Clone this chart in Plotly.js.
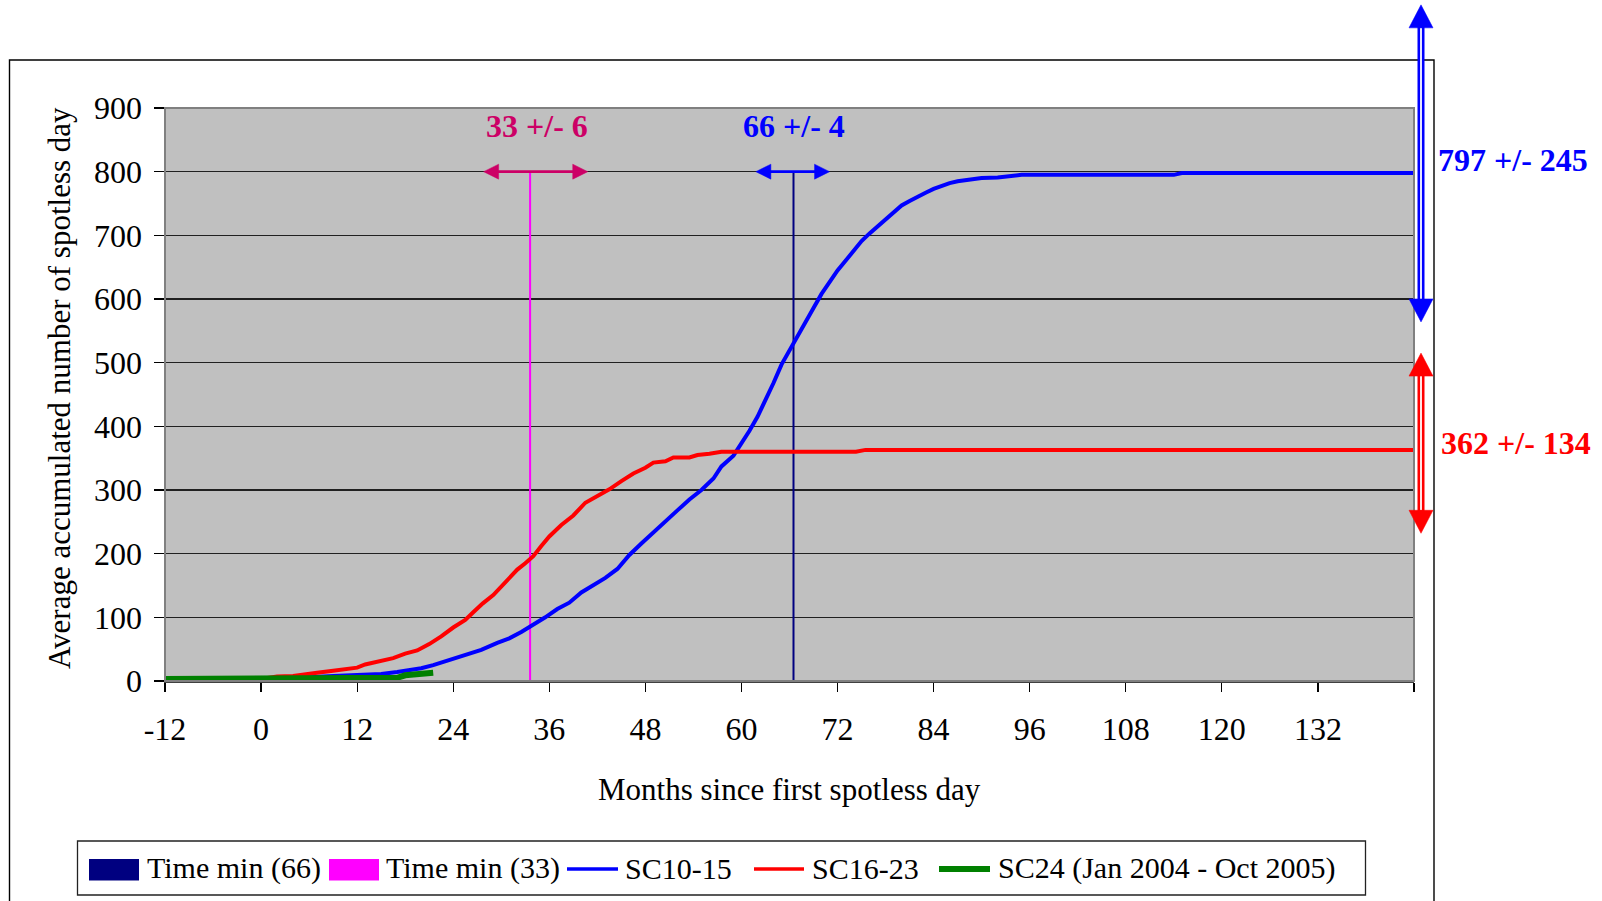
<!DOCTYPE html>
<html>
<head>
<meta charset="utf-8">
<script src="https://cdn.plot.ly/plotly-3.0.1.min.js"></script>
<style>html,body{margin:0;padding:0;background:#fff;}#chart{width:1602px;height:901px;}</style>
</head>
<body>
<div id="chart"></div>
<script>
// ---------------- data ----------------
const xTickVals = [-12, 0, 12, 24, 36, 48, 60, 72, 84, 96, 108, 120, 132, 144];
const xTickText = ['-12', '0', '12', '24', '36', '48', '60', '72', '84', '96', '108', '120', '132', ''];
const yTickVals = [0, 100, 200, 300, 400, 500, 600, 700, 800, 900];
const yTickText = ['0', '100', '200', '300', '400', '500', '600', '700', '800', '900'];

const sc1015Months = [0, 3, 6, 9, 12, 15, 17, 18.5, 20, 21.5, 23.5, 25.5, 27.5, 29.5, 31, 32.5, 34, 35.5, 37, 38.5, 40, 41.5, 43, 44.5, 46, 47.5, 49, 50.5, 52, 53.5, 55, 56.5, 57.5, 59, 60, 61, 62, 63, 64, 65, 66, 67, 68, 69, 70, 71, 72, 73, 74, 75, 76, 77, 78, 79, 80, 81, 82, 83, 84, 85, 86, 87, 88, 89, 90, 92, 94, 95, 114, 115, 144];
const sc1015Values = [3, 4, 6, 8, 9, 11, 14, 17, 20, 25, 33, 41, 49, 60, 67, 77, 88, 100, 113, 123, 139, 151, 162, 176, 198, 216, 234, 250, 268, 285, 300, 318, 337, 354, 373, 393, 415, 440, 468, 497, 520, 541, 563, 586, 608, 627, 645, 660, 676, 691, 703, 714, 726, 737, 747, 754, 761, 767, 773, 778, 782, 785, 787, 789, 790, 791, 793, 795, 795, 798, 798];

const sc1623Months = [0, 1, 2, 4, 5, 7, 9, 10, 12, 13, 15, 16.5, 18, 19.5, 21, 22.5, 24, 25.5, 26.5, 27.7, 29, 30, 31, 32, 33, 34, 35, 36, 37.5, 39, 40.5, 42, 43.5, 45, 46.5, 48, 49, 50.5, 51.5, 53.5, 54.5, 56, 57.5, 74.3, 75.5, 144];
const sc1623Values = [3, 5, 7, 8, 10, 13, 16, 18, 21, 26, 31, 36, 43, 48, 58, 70, 84, 96, 108, 122, 135, 148, 163, 175, 185, 196, 212, 227, 245, 260, 280, 291, 301, 314, 326, 335, 343, 345, 351, 351, 355, 357, 360, 360, 363, 363];

const sc24Months = [-12, 0, 16, 17, 18, 19.5, 21.5];
const sc24Values = [3, 3, 3, 5, 9, 11, 13];

const timeMinNames = ['Time min (66)', 'Time min (33)'];
const timeMinX = [66.5, 33.6];          // plotted position of the vertical markers
const timeMinTop = 800;
const timeMinLabels = ['66 +/- 4', '33 +/- 6'];
const timeMinArrowSpan = [[61.8, 71.0], [27.8, 40.8]];

const plateauLabels = ['797 +/- 245', '362 +/- 134'];
const plateauArrowSpan = [[564, 1062], [232, 515]];
const plateauLabelLevel = [818, 374];

const seriesNames = ['SC10-15', 'SC16-23', 'SC24 (Jan 2004 - Oct 2005)'];

// ---------------- styling ----------------
const FONT = 'Liberation Serif, Times New Roman, serif';
const W = 1602, H = 901, ML = 165, MR = 188, MT = 108, MB = 220;
const PW = W - ML - MR, PH = H - MT - MB;
const XR = [-12, 144], YR = [0, 900];

const cNavy = '#000080', cMag = '#FF00FF', cBlue = '#0000FF', cRed = '#FF0000', cGreen = '#008000', cPink = '#CC0066';

// paper coordinate helpers
const pxX = px => (px - ML) / PW;
const pxY = py => (H - MB - py) / PH;
const dX = px => px / PW;
const dY = px => px / PH;
const mX = m => (m - XR[0]) / (XR[1] - XR[0]);
const vY = v => (v - YR[0]) / (YR[1] - YR[0]);

const traces = [
  {x: [timeMinX[0], timeMinX[0]], y: [0, timeMinTop], name: timeMinNames[0], mode: 'lines', line: {color: cNavy, width: 2}, hoverinfo: 'skip'},
  {x: [timeMinX[1], timeMinX[1]], y: [0, timeMinTop], name: timeMinNames[1], mode: 'lines', line: {color: cMag, width: 2}, hoverinfo: 'skip'},
  {x: sc1015Months, y: sc1015Values, name: seriesNames[0], mode: 'lines', line: {color: cBlue, width: 4}},
  {x: sc1623Months, y: sc1623Values, name: seriesNames[1], mode: 'lines', line: {color: cRed, width: 4}},
  {x: sc24Months, y: sc24Values, name: seriesNames[2], mode: 'lines', line: {color: cGreen, width: 6}}
];

const shapes = [];
const annotations = [];

// plot border (grey top / right)
shapes.push({type: 'rect', xref: 'paper', yref: 'paper', x0: 0, x1: 1, y0: 0, y1: 1, line: {color: '#808080', width: 2}, layer: 'above'});
// outer frame
shapes.push({type: 'rect', xref: 'paper', yref: 'paper', x0: pxX(9.5), x1: pxX(1434), y0: pxY(960), y1: pxY(60), line: {color: '#000', width: 1.4}, layer: 'above'});

function tri(x0, y0, x1, y1, x2, y2, color) {
  shapes.push({type: 'path', xref: 'paper', yref: 'paper', path: `M${x0},${y0} L${x1},${y1} L${x2},${y2} Z`, fillcolor: color, line: {color: color, width: 0.5}, layer: 'above'});
}

// horizontal arrows at the 800 level
function hArrow(m0, m1, v, color) {
  const hl = 15, hw = 7.5;
  const xa = mX(m0), xb = mX(m1), y = vY(v);
  shapes.push({type: 'line', xref: 'paper', yref: 'paper', x0: xa + dX(hl - 2), x1: xb - dX(hl - 2), y0: y, y1: y, line: {color: color, width: 2.6}, layer: 'above'});
  tri(xa, y, xa + dX(hl), y + dY(hw), xa + dX(hl), y - dY(hw), color);
  tri(xb, y, xb - dX(hl), y + dY(hw), xb - dX(hl), y - dY(hw), color);
}
hArrow(timeMinArrowSpan[1][0], timeMinArrowSpan[1][1], timeMinTop, cPink);
hArrow(timeMinArrowSpan[0][0], timeMinArrowSpan[0][1], timeMinTop, cBlue);

// vertical double arrows right of the plot
function vArrow(xpx, v0, v1, color) {
  const hl = 23, hw = 12;
  const x = pxX(xpx), ya = vY(v0), yb = vY(v1);
  shapes.push({type: 'line', xref: 'paper', yref: 'paper', x0: x, x1: x, y0: ya + dY(hl - 2), y1: yb - dY(hl - 2), line: {color: color, width: 7}, layer: 'above'});
  shapes.push({type: 'line', xref: 'paper', yref: 'paper', x0: x, x1: x, y0: ya + dY(hl), y1: yb - dY(hl), line: {color: '#fff', width: 1.8}, layer: 'above'});
  tri(x, ya, x - dX(hw), ya + dY(hl), x + dX(hw), ya + dY(hl), color);
  tri(x, yb, x - dX(hw), yb - dY(hl), x + dX(hw), yb - dY(hl), color);
}
vArrow(1421, plateauArrowSpan[0][0], plateauArrowSpan[0][1], cBlue);
vArrow(1421, plateauArrowSpan[1][0], plateauArrowSpan[1][1], cRed);

// labels
annotations.push({xref: 'x', yref: 'y', x: 34.5, y: 871, text: timeMinLabels[1], showarrow: false, xanchor: 'center', yanchor: 'middle', font: {family: FONT, size: 32, color: cPink, weight: 'bold'}});
annotations.push({xref: 'x', yref: 'y', x: 66.6, y: 871, text: timeMinLabels[0], showarrow: false, xanchor: 'center', yanchor: 'middle', font: {family: FONT, size: 32, color: cBlue, weight: 'bold'}});
annotations.push({xref: 'paper', yref: 'paper', x: pxX(1436), y: vY(plateauLabelLevel[0]), text: plateauLabels[0], showarrow: false, xanchor: 'left', yanchor: 'middle', font: {family: FONT, size: 32, color: cBlue, weight: 'bold'}});
annotations.push({xref: 'paper', yref: 'paper', x: pxX(1439), y: vY(plateauLabelLevel[1]), text: plateauLabels[1], showarrow: false, xanchor: 'left', yanchor: 'middle', font: {family: FONT, size: 32, color: cRed, weight: 'bold'}});

// axis titles
annotations.push({xref: 'paper', yref: 'paper', x: 0.5, y: pxY(789), text: 'Months since first spotless day', showarrow: false, xanchor: 'center', yanchor: 'middle', font: {family: FONT, size: 31, color: '#000'}});
annotations.push({xref: 'paper', yref: 'paper', x: pxX(59), y: pxY(671), text: 'Average accumulated number of spotless day', textangle: -90, showarrow: false, xanchor: 'center', yanchor: 'bottom', font: {family: FONT, size: 31, color: '#000'}});

// legend (drawn box)
shapes.push({type: 'rect', xref: 'paper', yref: 'paper', x0: pxX(77.5), x1: pxX(1365.5), y0: pxY(895), y1: pxY(841), line: {color: '#222', width: 1.3}, fillcolor: '#fff', layer: 'above'});
const legItems = [
  {kind: 'box', color: cNavy, x0: 89, x1: 139, tx: 145, text: timeMinNames[0]},
  {kind: 'box', color: cMag, x0: 329, x1: 379, tx: 384, text: timeMinNames[1]},
  {kind: 'line', color: cBlue, w: 3.5, x0: 567, x1: 618, tx: 623, text: seriesNames[0]},
  {kind: 'line', color: cRed, w: 3.5, x0: 754, x1: 804, tx: 810, text: seriesNames[1]},
  {kind: 'line', color: cGreen, w: 6, x0: 939, x1: 990, tx: 996, text: seriesNames[2]}
];
const legY = 869;
legItems.forEach(it => {
  if (it.kind === 'box') {
    shapes.push({type: 'rect', xref: 'paper', yref: 'paper', x0: pxX(it.x0), x1: pxX(it.x1), y0: pxY(880.5), y1: pxY(859), fillcolor: it.color, line: {width: 0}, layer: 'above'});
  } else {
    shapes.push({type: 'line', xref: 'paper', yref: 'paper', x0: pxX(it.x0), x1: pxX(it.x1), y0: pxY(legY), y1: pxY(legY), line: {color: it.color, width: it.w}, layer: 'above'});
  }
  annotations.push({xref: 'paper', yref: 'paper', x: pxX(it.tx), y: pxY(legY - 1), text: it.text, showarrow: false, xanchor: 'left', yanchor: 'middle', font: {family: FONT, size: 30, color: '#000'}});
});

const layout = {
  width: W, height: H,
  margin: {l: ML, r: MR, t: MT, b: MB, pad: 0},
  paper_bgcolor: '#ffffff', plot_bgcolor: '#C0C0C0',
  showlegend: false,
  xaxis: {
    range: XR, tickmode: 'array', tickvals: xTickVals, ticktext: xTickText,
    ticks: 'outside', ticklen: 9, tickwidth: 1.2, tickcolor: '#000',
    showgrid: false, zeroline: false, showline: true, linecolor: '#404040', linewidth: 2,
    tickfont: {family: FONT, size: 32, color: '#000'}, ticklabelstandoff: 10, fixedrange: true
  },
  yaxis: {
    range: YR, tickmode: 'array', tickvals: yTickVals, ticktext: yTickText,
    ticks: 'outside', ticklen: 10, tickwidth: 1.2, tickcolor: '#000',
    showgrid: true, gridcolor: '#202020', gridwidth: 1.2, zeroline: false,
    showline: true, linecolor: '#000', linewidth: 1.5,
    tickfont: {family: FONT, size: 32, color: '#000'}, ticklabelstandoff: 5, fixedrange: true
  },
  shapes: shapes,
  annotations: annotations
};

Plotly.newPlot('chart', traces, layout, {displayModeBar: false, staticPlot: true});
</script>
</body>
</html>
